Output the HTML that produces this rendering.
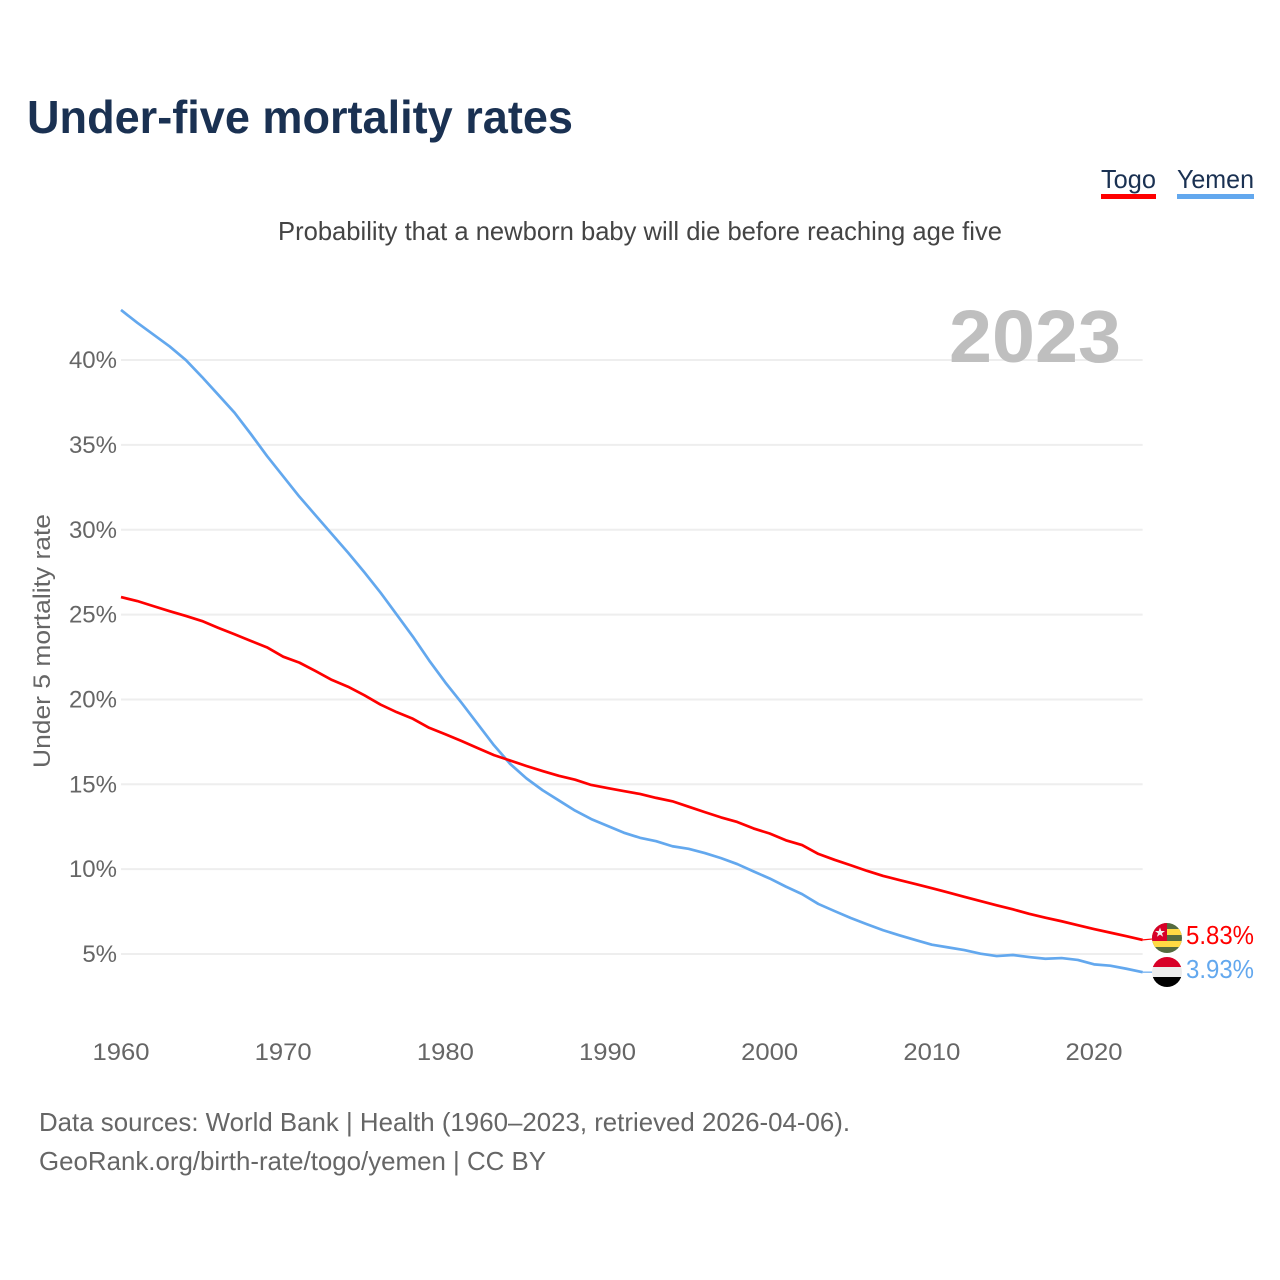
<!DOCTYPE html>
<html lang="en">
<head>
<meta charset="utf-8">
<title>Under-five mortality rates</title>
<style>
html,body{margin:0;padding:0;background:#fff;}
svg{display:block;font-family:"Liberation Sans",sans-serif;}
</style>
</head>
<body>
<svg id="chart" width="1280" height="1280" viewBox="0 0 1280 1280" xmlns="http://www.w3.org/2000/svg">
  <defs>
    <clipPath id="clip-togo"><circle cx="1167" cy="938" r="15"/></clipPath>
    <clipPath id="clip-yemen"><circle cx="1167" cy="972" r="15"/></clipPath>
  </defs>
  <rect width="1280" height="1280" fill="#fff"/>
  <text x="27" y="133" font-size="46" font-weight="700" fill="#1a3152" textLength="546" lengthAdjust="spacingAndGlyphs">Under-five mortality rates</text>
  <text x="278" y="240" font-size="26" fill="#444" textLength="724" lengthAdjust="spacingAndGlyphs">Probability that a newborn baby will die before reaching age five</text>

  <g>
    <g>
      <text x="1101" y="188" font-size="26" fill="#1a3152" textLength="55" lengthAdjust="spacingAndGlyphs">Togo</text>
      <rect x="1101" y="194" width="55" height="5" fill="#ff0000"/>
    </g>
    <g>
      <text x="1177" y="188" font-size="26" fill="#1a3152" textLength="77" lengthAdjust="spacingAndGlyphs">Yemen</text>
      <rect x="1177" y="194" width="77" height="5" fill="#63a8ee"/>
    </g>
  </g>

  <g id="grid"></g>
  <g id="y-axis"></g>
  <g id="x-axis"></g>

  <text transform="translate(50,768) rotate(-90)" font-size="24" fill="#666" textLength="254" lengthAdjust="spacingAndGlyphs">Under 5 mortality rate</text>
  <text x="949" y="362" font-size="74" font-weight="700" fill="#bfbfbf" textLength="172" lengthAdjust="spacingAndGlyphs">2023</text>

  <g id="series"></g>

  <g clip-path="url(#clip-togo)">
    <rect x="1152" y="923" width="30" height="30" fill="#556b3f"/>
    <rect x="1152" y="929" width="30" height="6" fill="#ffda44"/>
    <rect x="1152" y="941" width="30" height="6" fill="#ffda44"/>
    <rect x="1152" y="923" width="15" height="18" fill="#d80027"/>
    <polygon points="1160,927.5 1161.3,931 1165,931 1162,933.2 1163.1,936.8 1160,934.6 1156.9,936.8 1158,933.2 1155,931 1158.7,931" fill="#f0f0f0"/>
  </g>
  <g clip-path="url(#clip-yemen)">
    <rect x="1152" y="957" width="30" height="10" fill="#d80027"/>
    <rect x="1152" y="967" width="30" height="10" fill="#ececec"/>
    <rect x="1152" y="977" width="30" height="10" fill="#000"/>
  </g>

  <g id="end-labels"></g>

  <text x="39" y="1131" font-size="26" fill="#666" textLength="811" lengthAdjust="spacingAndGlyphs">Data sources: World Bank | Health (1960–2023, retrieved 2026-04-06).</text>
  <text x="39" y="1170" font-size="26" fill="#666" textLength="507" lengthAdjust="spacingAndGlyphs">GeoRank.org/birth-rate/togo/yemen | CC BY</text>
</svg>
<script>
var startYear = 1960;
var xTickYears = [1960, 1970, 1980, 1990, 2000, 2010, 2020];
var yTickValues = [5, 10, 15, 20, 25, 30, 35, 40];
var togoValues = [
  26.03, 25.8, 25.5, 25.2, 24.92, 24.62, 24.22, 23.84, 23.45, 23.07,
  22.52, 22.17, 21.67, 21.15, 20.75, 20.25, 19.7, 19.25, 18.86, 18.33,
  17.95, 17.55, 17.13, 16.72, 16.4, 16.08, 15.78, 15.5, 15.27, 14.96,
  14.78, 14.6, 14.43, 14.2, 14.0, 13.68, 13.36, 13.05, 12.78, 12.4,
  12.1, 11.7, 11.42, 10.9, 10.55, 10.23, 9.9, 9.6, 9.36, 9.12,
  8.88, 8.63, 8.37, 8.12, 7.87, 7.63, 7.37, 7.14, 6.93, 6.7,
  6.47, 6.26, 6.05, 5.83
];
var yemenValues = [
  42.95, 42.2, 41.5, 40.8, 40.0, 39.0, 37.95, 36.9, 35.65, 34.35,
  33.15, 31.95, 30.85, 29.75, 28.65, 27.5, 26.3, 25.0, 23.7, 22.3,
  21.0, 19.8, 18.55, 17.3, 16.2, 15.35, 14.65, 14.05, 13.45, 12.95,
  12.55, 12.15, 11.85, 11.65, 11.35, 11.2, 10.95, 10.65, 10.3, 9.87,
  9.45, 8.97, 8.53, 7.95, 7.53, 7.12, 6.75, 6.4, 6.1, 5.82,
  5.55, 5.39, 5.23, 5.02, 4.88, 4.94, 4.82, 4.72, 4.76, 4.65,
  4.39, 4.31, 4.13, 3.93
];

var SVG_NS = 'http://www.w3.org/2000/svg';
function xScale(year) { return 121 + (year - 1960) * (973 / 60); }
function yScale(value) { return 1038.85 - value * 16.97; }
function make(tag, parent) {
  var el = document.createElementNS(SVG_NS, tag);
  parent.appendChild(el);
  return el;
}

var gridGroup = document.getElementById('grid');
var yAxisGroup = document.getElementById('y-axis');
var xAxisGroup = document.getElementById('x-axis');
var seriesGroup = document.getElementById('series');
var endGroup = document.getElementById('end-labels');
var plotRight = xScale(2023);

yTickValues.forEach(function (v) {
  var line = make('line', gridGroup);
  
  
  line.setAttribute('x1', 121);
  line.setAttribute('x2', plotRight);
  line.setAttribute('y1', yScale(v));
  line.setAttribute('y2', yScale(v));
  line.setAttribute('stroke', '#eeeeee');
  line.setAttribute('stroke-width', 2);

  var label = make('text', yAxisGroup);
  
  
  label.setAttribute('x', 117);
  label.setAttribute('y', yScale(v) + 8);
  label.setAttribute('text-anchor', 'end');
  label.setAttribute('font-size', 24);
  label.setAttribute('fill', '#666');
  label.textContent = v + '%';
});

xTickYears.forEach(function (year) {
  var label = make('text', xAxisGroup);
  
  
  label.setAttribute('x', xScale(year) - 28.5);
  label.setAttribute('y', 1060);
  label.setAttribute('font-size', 24);
  label.setAttribute('fill', '#666');
  label.setAttribute('textLength', 57);
  label.setAttribute('lengthAdjust', 'spacingAndGlyphs');
  label.textContent = year;
});

function pathFor(values) {
  return values.map(function (v, i) {
    return (i ? 'L' : 'M') + xScale(startYear + i).toFixed(2) + ' ' + yScale(v).toFixed(2);
  }).join(' ');
}

var yemenPath = make('path', seriesGroup);


yemenPath.setAttribute('d', pathFor(yemenValues));
yemenPath.setAttribute('fill', 'none');
yemenPath.setAttribute('stroke', '#63a8ee');
yemenPath.setAttribute('stroke-width', 2.7);
yemenPath.setAttribute('stroke-linejoin', 'round');

var togoPath = make('path', seriesGroup);


togoPath.setAttribute('d', pathFor(togoValues));
togoPath.setAttribute('fill', 'none');
togoPath.setAttribute('stroke', '#ff0000');
togoPath.setAttribute('stroke-width', 2.7);
togoPath.setAttribute('stroke-linejoin', 'round');

var togoLast = togoValues[togoValues.length - 1];
var yemenLast = yemenValues[yemenValues.length - 1];

var togoLead = make('line', seriesGroup);


togoLead.setAttribute('x1', plotRight);
togoLead.setAttribute('x2', 1153);
togoLead.setAttribute('y1', yScale(togoLast));
togoLead.setAttribute('y2', yScale(togoLast) - 1);
togoLead.setAttribute('stroke', '#ff0000');
togoLead.setAttribute('stroke-width', 1.2);

var yemenLead = make('line', seriesGroup);


yemenLead.setAttribute('x1', plotRight);
yemenLead.setAttribute('x2', 1153);
yemenLead.setAttribute('y1', yScale(yemenLast));
yemenLead.setAttribute('y2', yScale(yemenLast));
yemenLead.setAttribute('stroke', '#63a8ee');
yemenLead.setAttribute('stroke-width', 1.2);

var togoEnd = make('text', endGroup);


togoEnd.setAttribute('x', 1186);
togoEnd.setAttribute('y', 944);
togoEnd.setAttribute('font-size', 26);
togoEnd.setAttribute('fill', '#ff0000');
togoEnd.setAttribute('textLength', 68);
togoEnd.setAttribute('lengthAdjust', 'spacingAndGlyphs');
togoEnd.textContent = togoLast.toFixed(2) + '%';

var yemenEnd = make('text', endGroup);


yemenEnd.setAttribute('x', 1186);
yemenEnd.setAttribute('y', 978);
yemenEnd.setAttribute('font-size', 26);
yemenEnd.setAttribute('fill', '#63a8ee');
yemenEnd.setAttribute('textLength', 68);
yemenEnd.setAttribute('lengthAdjust', 'spacingAndGlyphs');
yemenEnd.textContent = yemenLast.toFixed(2) + '%';
</script>
</body>
</html>
